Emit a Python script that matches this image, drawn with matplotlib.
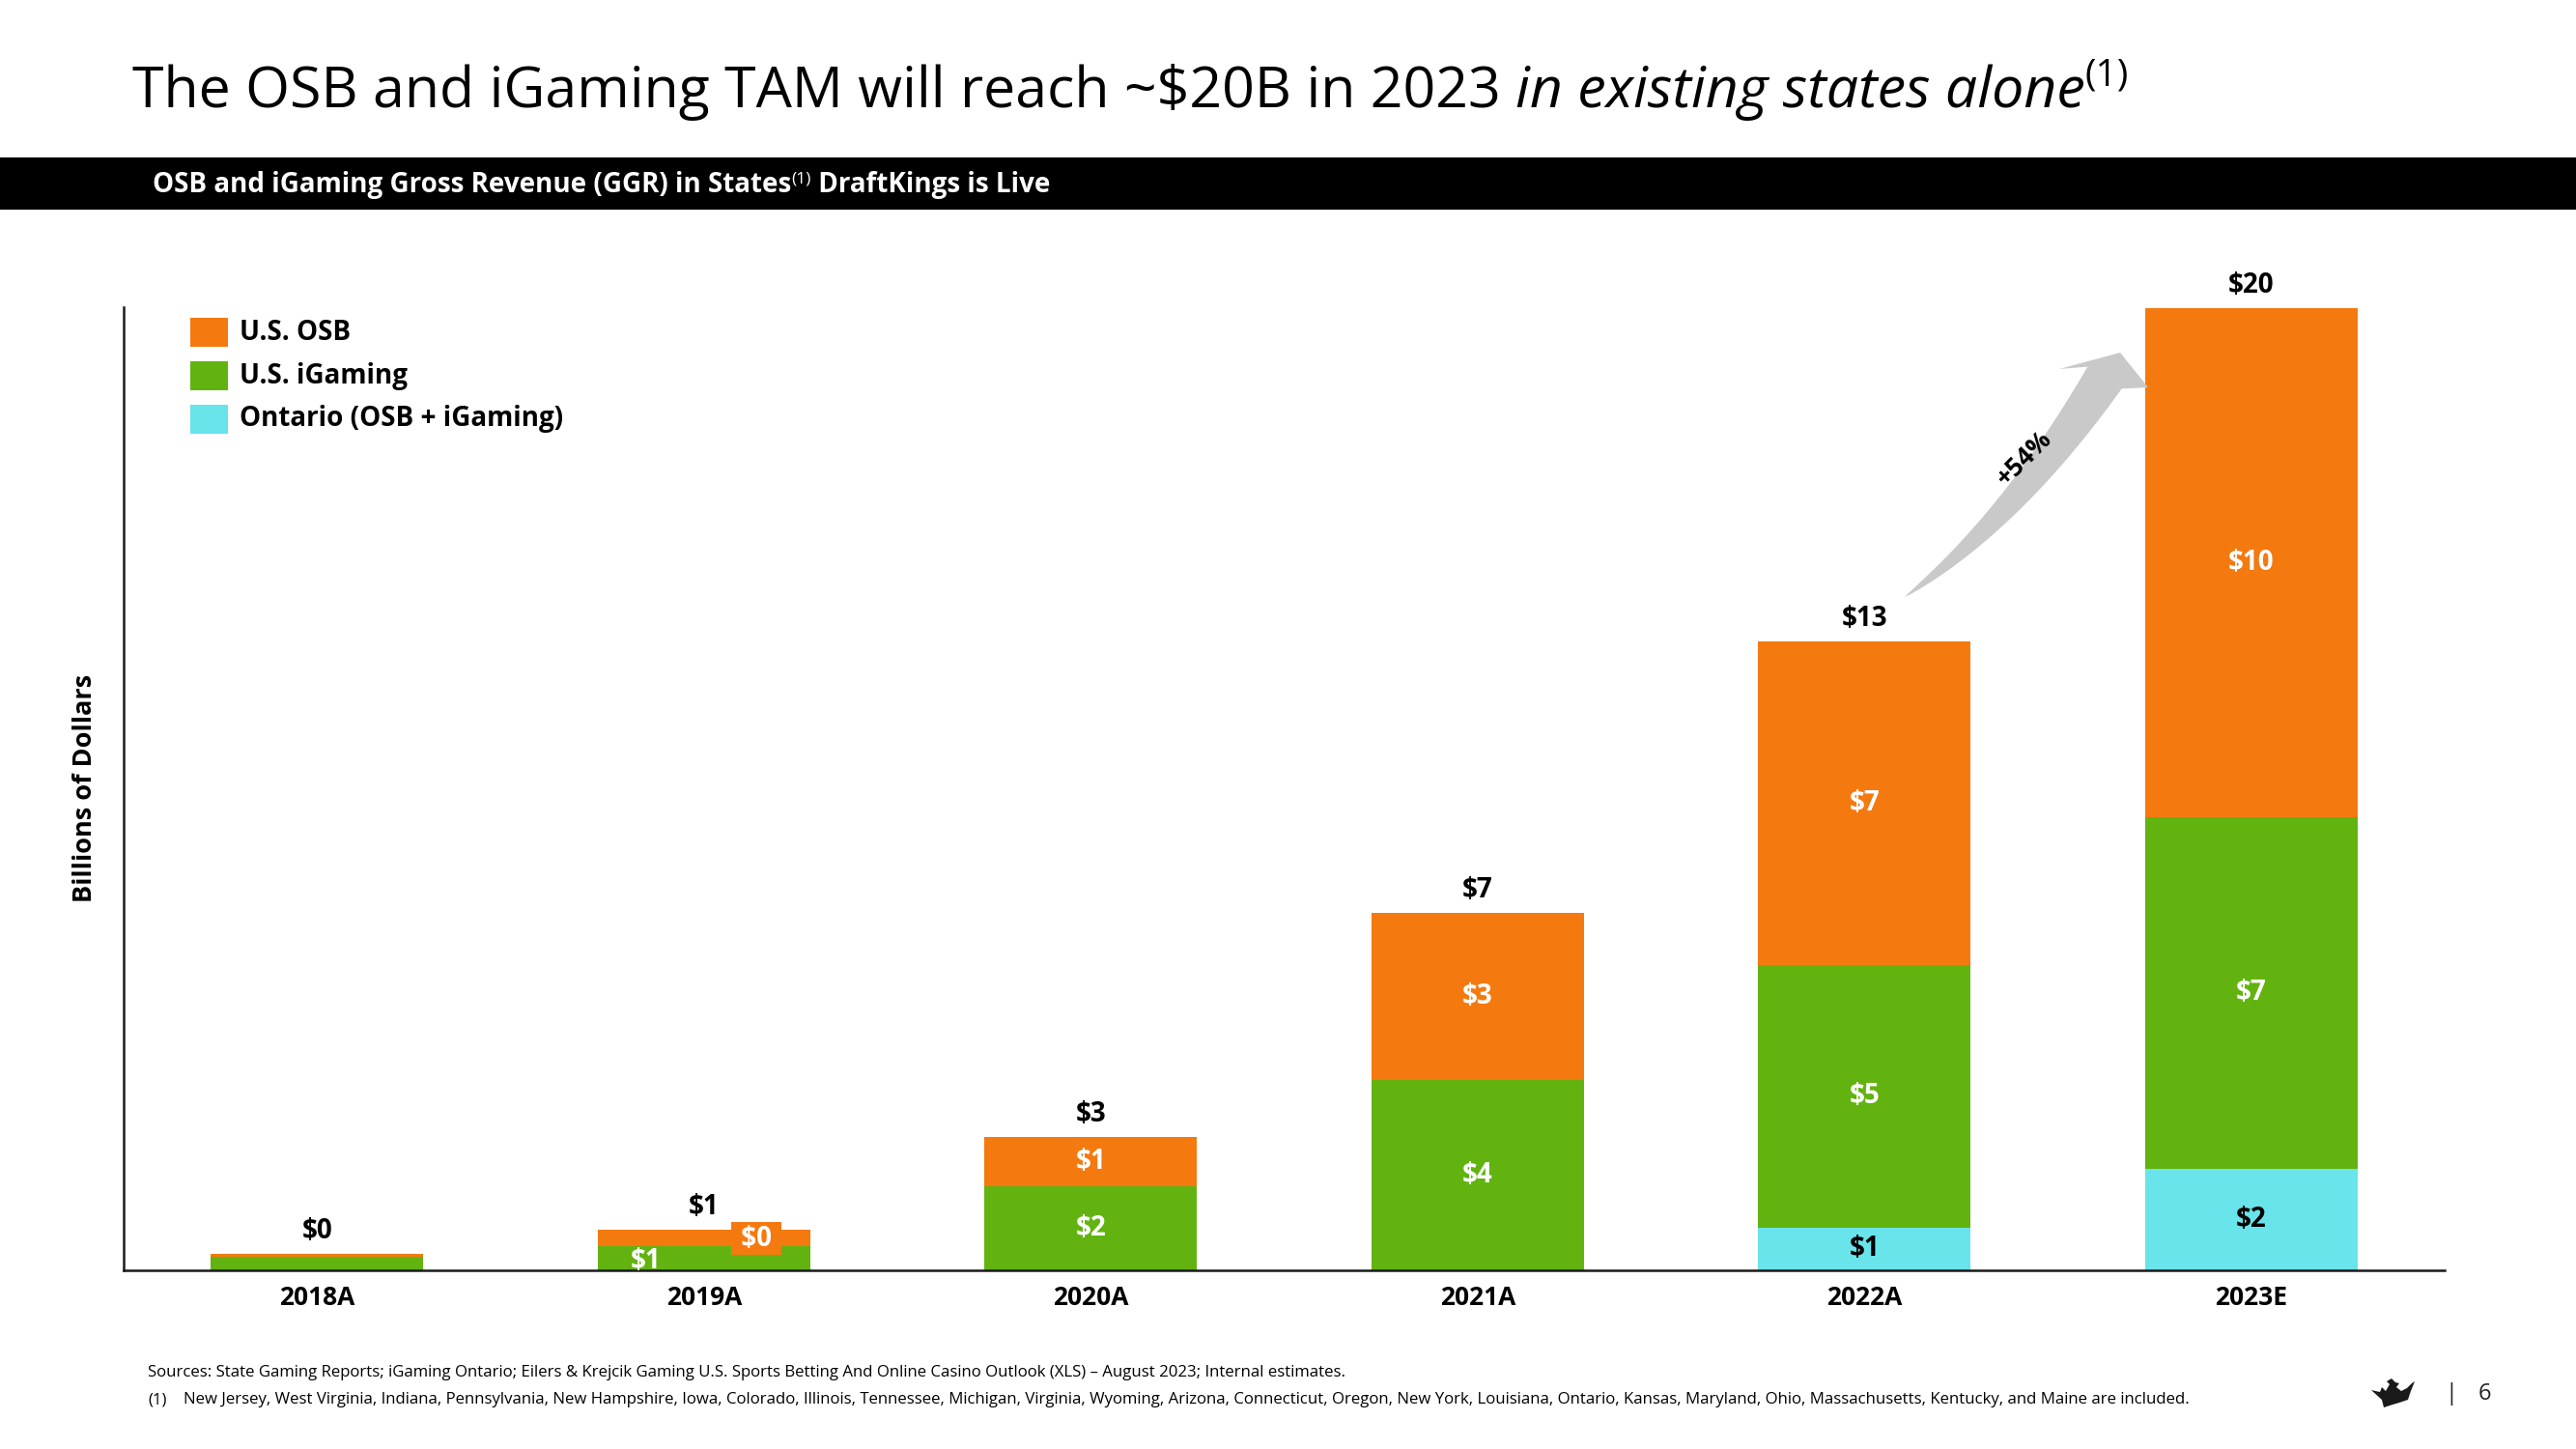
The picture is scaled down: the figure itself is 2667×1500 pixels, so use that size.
import matplotlib
matplotlib.use('Agg')
import matplotlib.pyplot as plt
import numpy as np
from matplotlib.patches import Polygon, Rectangle

plt.rcParams['font.family'] = ['Open Sans', 'DejaVu Sans']

# ---------- data ----------
years = ['2018A', '2019A', '2020A', '2021A', '2022A', '2023E']
us_osb = [0.06, 0.33, 1.02, 3.48, 6.71, 10.56]
us_igaming = [0.28, 0.51, 1.74, 3.95, 5.45, 7.30]
ontario = [0.0, 0.0, 0.0, 0.0, 0.89, 2.11]
total_labels = ['$0', '$1', '$3', '$7', '$13', '$20']
osb_labels = ['', '$0', '$1', '$3', '$7', '$10']
igaming_labels = ['', '$1', '$2', '$4', '$5', '$7']
ontario_labels = ['', '', '', '', '$1', '$2']
series_names = ['U.S. OSB', 'U.S. iGaming', 'Ontario (OSB + iGaming)']
growth_label = '+54%'

C_OSB = '#F47A10'
C_IG = '#62B310'
C_ON = '#68E4EA'
C_ARROW = '#C9C9C9'

W, H = 2667, 1500
fig = plt.figure(figsize=(W / 100, H / 100), dpi=100, facecolor='white')
R = fig.canvas.get_renderer()


def fx(x):
    return x / W


def fy(y):
    return 1 - y / H


def runs(x, y, parts, **kw):
    # draw text pieces one after another, y = baseline in px
    for s, st in parts:
        st = dict(st)
        dy = st.pop('dy', 0)
        t = fig.text(fx(x), fy(y - dy), s, ha='left', va='baseline', **{**kw, **st})
        x += t.get_window_extent(R).width
    return x


# ---------- title ----------
runs(137, 111, [('The OSB and iGaming TAM will reach ~$20B in 2023 ', {}),
                ('in existing states alone', {'style': 'italic'}),
                ('(1)', {'fontsize': 28, 'dy': 23})],
     fontsize=42.5, color='black')

# ---------- header bar ----------
fig.patches.append(Rectangle((0, fy(217)), 1, (217 - 163) / H, transform=fig.transFigure,
                             facecolor='black', edgecolor='none'))
runs(158, 199, [('OSB and iGaming Gross Revenue (GGR) in States', {}),
                ('(1)', {'fontsize': 12.5, 'dy': 10, 'fontweight': 'normal'}),
                (' DraftKings is Live', {})],
     fontsize=20, color='white', fontweight='bold')

# ---------- chart ----------
ax = fig.add_axes([fx(128), fy(1315), (2531 - 128) / W, (1315 - 318) / H])
x = np.arange(len(years))
bw = 0.55
on = np.array(ontario)
ig = np.array(us_igaming)
osb = np.array(us_osb)
ax.bar(x, on, bw, color=C_ON, zorder=2)
ax.bar(x, ig, bw, bottom=on, color=C_IG, zorder=2)
ax.bar(x, osb, bw, bottom=on + ig, color=C_OSB, zorder=2)
tot = on + ig + osb

lab = dict(ha='center', va='center', fontsize=20, fontweight='bold')
for i in range(len(years)):
    if ontario_labels[i]:
        ax.text(x[i], on[i] / 2, ontario_labels[i], color='black', **lab)
    if i == 1:
        # 2019: small segments, labels offset like the original
        ax.text(x[i] - 0.15, 0.19, igaming_labels[i], color='white', **lab)
        ax.text(x[i] + 0.135, 0.66, ' ' + osb_labels[i] + ' ', color='white',
                bbox=dict(facecolor=C_OSB, edgecolor='none', boxstyle='square,pad=0.1'), **lab)
        continue
    if igaming_labels[i]:
        ax.text(x[i], on[i] + ig[i] / 2, igaming_labels[i], color='white', **lab)
    if osb_labels[i]:
        ax.text(x[i], on[i] + ig[i] + osb[i] / 2, osb_labels[i], color='white', **lab)

for i in range(len(years)):
    ax.annotate(total_labels[i], (x[i], tot[i]), xytext=(0, 17), textcoords='offset points',
                color='black', **lab)

ax.set_xlim(-0.5, 5.5)
ax.set_ylim(0, 20.0)
ax.set_yticks([])
ax.set_xticks(x)
ax.set_xticklabels(years, fontsize=19, fontweight='bold')
ax.tick_params(axis='x', length=0, pad=11)
for sp in ['top', 'right']:
    ax.spines[sp].set_visible(False)
for sp in ['left', 'bottom']:
    ax.spines[sp].set_color('#1a1a1a')
    ax.spines[sp].set_linewidth(1.8)

fig.text(fx(88), fy(816), 'Billions of Dollars', rotation=90, ha='center', va='center',
         fontsize=19.5, fontweight='bold')

# ---------- legend ----------
leg_rows = [344, 389, 434]
for name, col, yc in zip(series_names, [C_OSB, C_IG, C_ON], leg_rows):
    fig.patches.append(Rectangle((fx(197), fy(yc + 15)), 39 / W, 30 / H,
                                 transform=fig.transFigure, facecolor=col, edgecolor='none'))
    fig.text(fx(248), fy(yc), name, ha='left', va='center', fontsize=20, fontweight='bold')

# ---------- growth arrow ----------
p0 = np.array([1972, 618.0])
c1 = np.array([2082, 541.0])
p2 = np.array([2179, 391.0])
t = np.linspace(0, 1, 60)[:, None]
pts = (1 - t) ** 2 * p0 + 2 * (1 - t) * t * c1 + t ** 2 * p2
d = 2 * (1 - t) * (c1 - p0) + 2 * t * (p2 - c1)
d = d / np.linalg.norm(d, axis=1)[:, None]
n = np.column_stack([-d[:, 1], d[:, 0]])
w = 42 * t[:, 0] ** 0.8
side_a = pts + n * w[:, None] / 2
side_b = pts - n * w[:, None] / 2
head = np.array([[2132, 382], [2195, 365], [2224, 401]])
poly = np.vstack([side_b, head, side_a[::-1]])
poly_fig = np.column_stack([poly[:, 0] / W, 1 - poly[:, 1] / H])
fig.patches.append(Polygon(poly_fig, closed=True, transform=fig.transFigure,
                           facecolor=C_ARROW, edgecolor='none'))
fig.text(fx(2096), fy(474), growth_label, rotation=45, ha='center', va='center',
         fontsize=19, fontweight='bold', rotation_mode='anchor')

# ---------- footnotes ----------
fn = 12.05
fig.text(fx(153), fy(1421), 'Sources: State Gaming Reports; iGaming Ontario; Eilers & Krejcik Gaming U.S. '
         'Sports Betting And Online Casino Outlook (XLS) \u2013 August 2023; Internal estimates.',
         ha='left', va='center', fontsize=fn)
fig.text(fx(153), fy(1449), '(1)', ha='left', va='center', fontsize=fn)
fig.text(fx(190), fy(1449), 'New Jersey, West Virginia, Indiana, Pennsylvania, New Hampshire, Iowa, Colorado, '
         'Illinois, Tennessee, Michigan, Virginia, Wyoming, Arizona, Connecticut, Oregon, New York, Louisiana, '
         'Ontario, Kansas, Maryland, Ohio, Massachusetts, Kentucky, and Maine are included.',
         ha='left', va='center', fontsize=fn)

# ---------- page marker ----------
crown = np.array([[2455, 1439], [2464, 1441], [2466, 1436], [2470, 1440], [2474, 1433],
                  [2471, 1430], [2476, 1427], [2480, 1431], [2484, 1432], [2481, 1436],
                  [2486, 1440], [2492, 1437], [2497, 1432], [2500, 1430], [2496, 1440],
                  [2493, 1449], [2484, 1452], [2474, 1455], [2468, 1457], [2466, 1449]])
fig.patches.append(Polygon(np.column_stack([crown[:, 0] / W, 1 - crown[:, 1] / H]), closed=True,
                           transform=fig.transFigure, facecolor='#1a1a1a', edgecolor='none'))
fig.text(fx(2538), fy(1443), '|', ha='center', va='center', fontsize=17, color='#222222')
fig.text(fx(2572), fy(1443), '6', ha='center', va='center', fontsize=17, color='#222222')

fig.savefig('out.png', dpi=100, facecolor='white')
